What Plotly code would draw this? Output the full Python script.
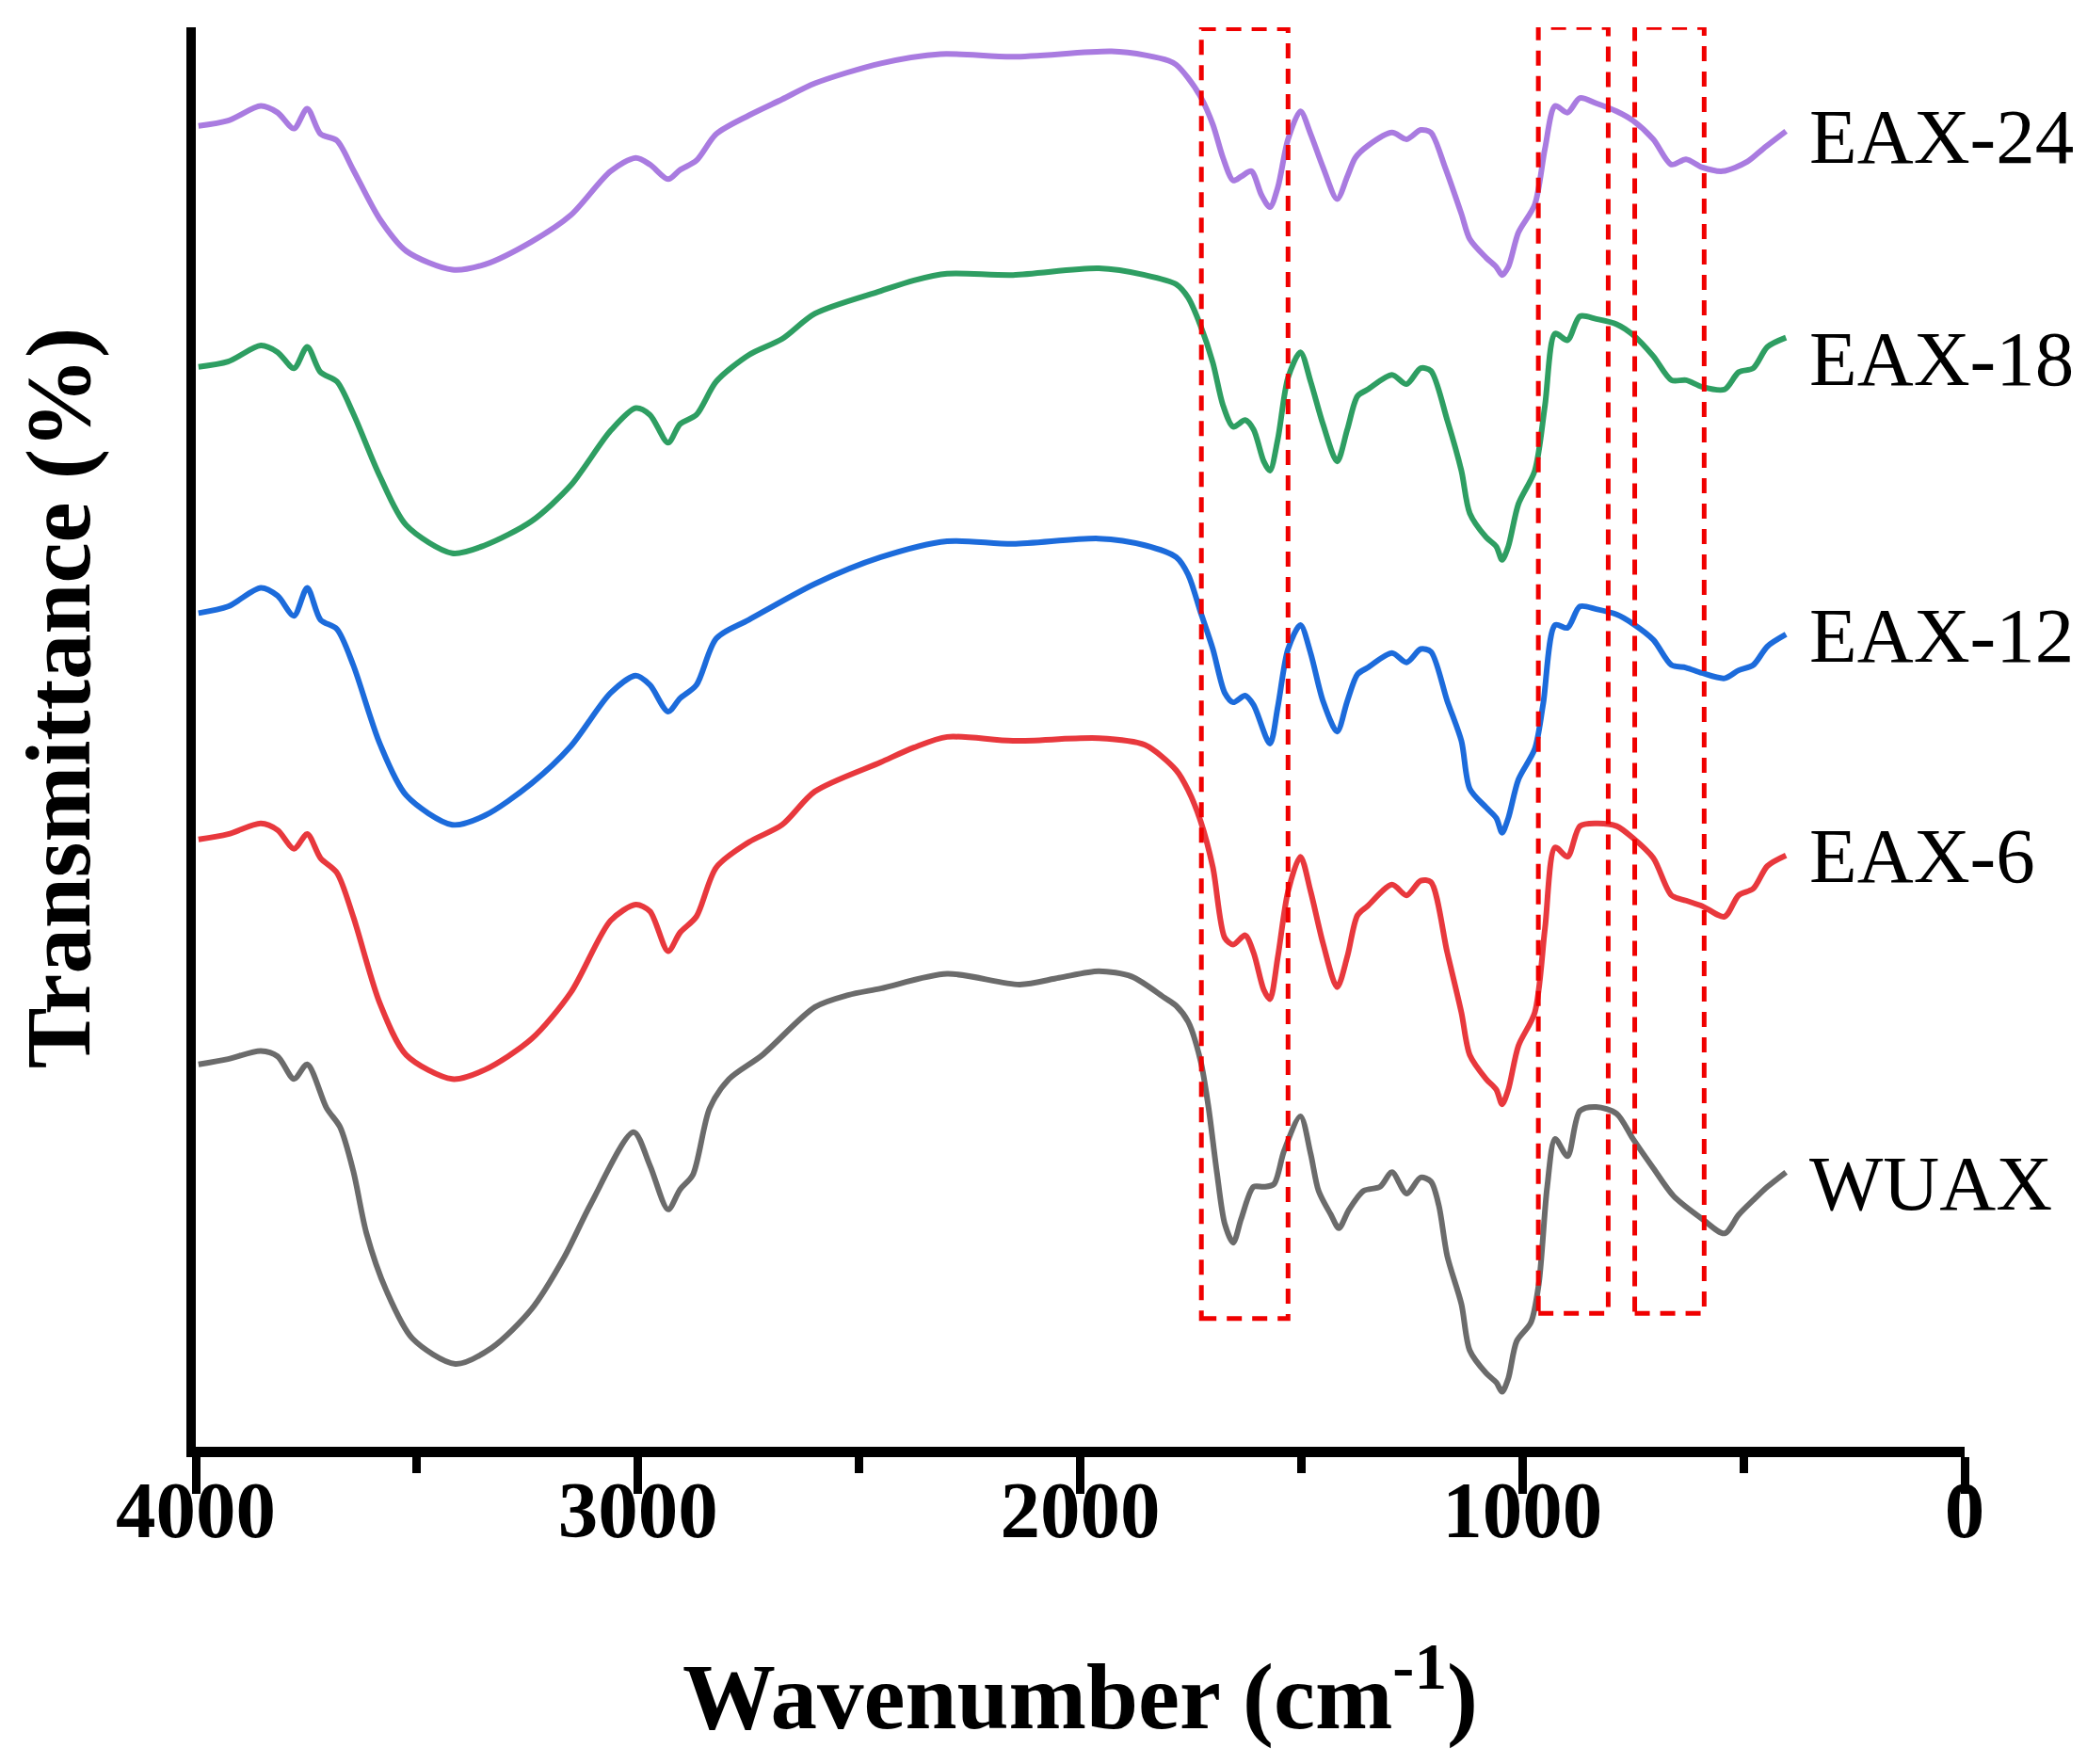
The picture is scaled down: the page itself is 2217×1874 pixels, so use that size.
import plotly.graph_objects as go

# ---- data (wavenumber cm^-1, stacked transmittance, arbitrary units) ----
wn_eax24 = [3994, 3927, 3853, 3815, 3778, 3748, 3718, 3681, 3644, 3584, 3524, 3420, 3346, 3241, 3152,
            3062, 3005, 2973, 2932, 2905, 2868, 2823, 2749, 2674, 2600, 2451, 2316, 2152, 1929, 1850,
            1800, 1783, 1756, 1728, 1700, 1677, 1654, 1636, 1613, 1590, 1571, 1553, 1530, 1502, 1479,
            1451, 1419, 1396, 1378, 1350, 1295, 1262, 1230, 1207, 1175, 1138, 1119, 1082, 1059, 1046,
            1032, 1009, 972, 949, 926, 898, 870, 833, 787, 750, 704, 663, 630, 594, 547, 492, 455, 404]
t_eax24 = [994, 998, 1009, 1004, 992, 1007, 988, 983, 961, 924, 900, 886, 890, 907, 927,
           960, 970, 965, 954, 961, 968, 988, 1002, 1014, 1026, 1041, 1048, 1046, 1050, 1047,
           1043, 1040, 1030, 1016, 995, 970, 953, 956, 960, 942, 933, 948, 984, 1005, 988,
           963, 939, 956, 970, 979, 989, 984, 991, 989, 963, 928, 909, 895, 888, 882,
           888, 914, 935, 977, 1009, 1004, 1015, 1011, 1005, 998, 984, 965, 969, 963, 960, 967, 977, 990]

wn_eax18 = [3994, 3927, 3853, 3815, 3778, 3748, 3718, 3681, 3644, 3584, 3524, 3420, 3346, 3241, 3152,
            3062, 3005, 2973, 2932, 2905, 2868, 2823, 2749, 2674, 2600, 2451, 2376, 2301, 2152, 1958,
            1854, 1783, 1756, 1728, 1700, 1677, 1654, 1627, 1608, 1585, 1571, 1553, 1530, 1502, 1479,
            1451, 1419, 1396, 1373, 1350, 1295, 1262, 1230, 1207, 1170, 1138, 1119, 1082, 1059, 1046,
            1032, 1009, 972, 949, 926, 898, 870, 833, 787, 750, 704, 663, 630, 594, 543, 511, 478, 446, 404]
t_eax18 = [813, 817, 829, 824, 812, 828, 809, 802, 778, 731, 694, 673, 679, 697, 724,
           765, 782, 777, 756, 770, 777, 802, 822, 834, 853, 870, 878, 883, 882, 887,
           882, 875, 865, 844, 816, 784, 768, 773, 766, 742, 735, 759, 805, 824, 802,
           770, 742, 766, 791, 796, 807, 800, 812, 810, 773, 735, 703, 685, 678, 668,
           678, 710, 735, 784, 838, 833, 851, 849, 845, 837, 821, 803, 803, 798, 796, 809, 812, 828, 835]

wn_eax12 = [3994, 3927, 3853, 3815, 3778, 3748, 3718, 3681, 3644, 3584, 3524, 3420, 3346, 3241, 3152,
            3062, 3005, 2973, 2932, 2905, 2868, 2823, 2749, 2600, 2451, 2301, 2152, 1958, 1854, 1783,
            1756, 1728, 1700, 1673, 1654, 1627, 1608, 1571, 1553, 1530, 1502, 1479, 1451, 1419, 1396,
            1373, 1350, 1295, 1262, 1230, 1207, 1170, 1138, 1119, 1082, 1059, 1046, 1032, 1009, 972,
            953, 926, 898, 870, 833, 787, 750, 704, 663, 630, 594, 543, 511, 478, 446, 404]
t_eax12 = [628, 633, 647, 641, 626, 647, 623, 616, 589, 530, 491, 469, 476, 500, 528,
           568, 581, 574, 554, 564, 574, 609, 623, 650, 670, 682, 680, 684, 679, 670,
           657, 629, 601, 568, 561, 566, 559, 530, 558, 601, 619, 598, 562, 539, 562,
           582, 587, 598, 591, 601, 599, 562, 532, 496, 482, 474, 463, 474, 503, 526,
           560, 619, 617, 633, 631, 627, 620, 608, 589, 587, 583, 579, 585, 589, 603, 612]

wn_eax6 = [3994, 3927, 3853, 3815, 3778, 3748, 3718, 3681, 3644, 3584, 3524, 3420, 3346, 3241, 3152,
           3062, 3005, 2973, 2932, 2905, 2868, 2823, 2749, 2674, 2600, 2451, 2376, 2301, 2152, 1958,
           1854, 1783, 1756, 1728, 1700, 1673, 1654, 1627, 1608, 1585, 1571, 1553, 1530, 1502, 1479,
           1451, 1419, 1396, 1373, 1350, 1295, 1262, 1230, 1207, 1170, 1138, 1119, 1082, 1059, 1046,
           1032, 1009, 972, 949, 926, 898, 870, 833, 787, 750, 704, 663, 630, 594, 543, 511, 478, 446, 404]
t_eax6 = [458, 462, 470, 465, 451, 462, 444, 433, 400, 335, 296, 278, 285, 308, 343,
          397, 409, 404, 374, 388, 400, 437, 456, 469, 494, 516, 527, 535, 532, 534,
          529, 510, 495, 472, 437, 384, 379, 386, 373, 345, 338, 370, 419, 445, 419,
          380, 347, 370, 401, 408, 424, 416, 427, 426, 373, 328, 296, 278, 270, 259,
          270, 303, 328, 391, 452, 445, 468, 470, 468, 459, 444, 416, 412, 408, 400, 416, 421, 438, 446]

wn_wuax = [3994, 3927, 3853, 3815, 3778, 3748, 3704, 3674, 3644, 3614, 3569, 3510, 3413, 3331, 3241,
           3167, 3107, 3010, 2973, 2932, 2905, 2876, 2838, 2794, 2719, 2600, 2525, 2451, 2301, 2137,
           2048, 1958, 1884, 1809, 1783, 1756, 1728, 1710, 1691, 1673, 1654, 1636, 1608, 1585, 1562,
           1539, 1502, 1479, 1461, 1433, 1415, 1392, 1359, 1322, 1295, 1262, 1230, 1207, 1189, 1170,
           1138, 1119, 1082, 1059, 1046, 1032, 1013, 981, 963, 944, 926, 898, 870, 833, 787, 750,
           704, 658, 594, 543, 511, 478, 446, 404]
t_wuax = [289, 293, 299, 295, 278, 289, 256, 242, 209, 162, 119, 83, 64, 76, 105,
          144, 184, 238, 213, 180, 195, 206, 256, 278, 296, 332, 341, 346, 357, 349,
          354, 359, 355, 339, 333, 321, 292, 257, 208, 169, 155, 173, 197, 197, 199,
          224, 250, 222, 194, 176, 166, 180, 194, 197, 208, 192, 204, 201, 183, 145,
          109, 74, 57, 50, 43, 53, 81, 95, 124, 197, 233, 220, 254, 257, 252, 233,
          211, 190, 173, 162, 176, 187, 197, 208]

series_names = ["EAX-24", "EAX-18", "EAX-12", "EAX-6", "WUAX"]
series_colors = ["#A97BE0", "#2E9E62", "#1C6BDB", "#E8383D", "#6B6B6B"]
label_y = [986, 819, 611, 446, 200]

x_tick_vals = [4000, 3000, 2000, 1000, 0]
x_tick_text = ["4000", "3000", "2000", "1000", "0"]

# highlighted regions (wavenumber bounds) and their vertical extent
box_x0 = [1726, 964, 746]
box_x1 = [1530, 806, 589]
box_y0 = [98, 102, 102]
box_y1 = [1067, 1068, 1068]

FONT = "Liberation Serif"

fig = go.Figure()
all_x = [wn_eax24, wn_eax18, wn_eax12, wn_eax6, wn_wuax]
all_y = [t_eax24, t_eax18, t_eax12, t_eax6, t_wuax]
for name, col, xs, ys in zip(series_names, series_colors, all_x, all_y):
    fig.add_trace(go.Scatter(x=xs, y=ys, mode="lines", name=name,
                             line=dict(color=col, width=6, shape="spline", smoothing=0.8),
                             showlegend=False))

for x0, x1, y0, y1 in zip(box_x0, box_x1, box_y0, box_y1):
    fig.add_shape(type="rect", x0=x0, x1=x1, y0=y0, y1=y1, xref="x", yref="y",
                  line=dict(color="#F00000", width=5, dash="16px,11px"),
                  fillcolor="rgba(0,0,0,0)", layer="above")

for name, ly in zip(series_names, label_y):
    fig.add_annotation(x=355, y=ly, xref="x", yref="y", text=name, showarrow=False,
                       xanchor="left", yanchor="middle",
                       font=dict(family=FONT, size=83, color="black"))

fig.add_annotation(x=0.5, y=-0.171, xref="paper", yref="paper",
                   text="<b>Wavenumber (cm<sup>-1</sup>)</b>", showarrow=False,
                   xanchor="center", yanchor="middle",
                   font=dict(family=FONT, size=99, color="black"))
fig.add_annotation(x=-0.0775, y=0.528, xref="paper", yref="paper",
                   text="<b>Transmittance (%)</b>", showarrow=False, textangle=-90,
                   xanchor="center", yanchor="middle",
                   font=dict(family=FONT, size=97, color="black"))

fig.update_layout(
    width=2217, height=1874,
    margin=dict(l=200, r=138, t=21, b=345),
    paper_bgcolor="white", plot_bgcolor="white",
    xaxis=dict(range=[4000, 0], tickmode="array", tickvals=x_tick_vals, ticktext=x_tick_text,
               showgrid=False, zeroline=False, showline=True, linecolor="black", linewidth=11,
               ticks="outside", ticklen=39, tickwidth=9, tickcolor="black",
               ticklabelstandoff=-56,
               minor=dict(ticks="outside", dtick=500, tick0=0, ticklen=17, tickwidth=9,
                          tickcolor="black", showgrid=False),
               tickfont=dict(family=FONT, size=85, color="black", weight="bold")),
    yaxis=dict(range=[1.7, 1068.1], showgrid=False, zeroline=False, showline=True,
               linecolor="black", linewidth=10, ticks="", showticklabels=False),
)

fig.write_html("out.html")
